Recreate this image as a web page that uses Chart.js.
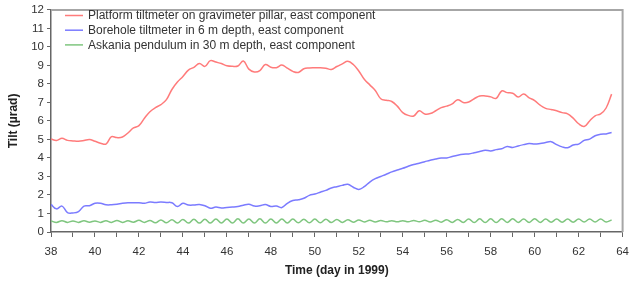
<!DOCTYPE html>
<html>
<head>
<meta charset="utf-8">
<script src="https://cdn.jsdelivr.net/npm/chart.js@4.4.0/dist/chart.umd.min.js"></script>
<style>
  html, body { margin: 0; padding: 0; background: #fff; }
  #wrap { width: 637px; height: 284px; }
</style>
</head>
<body>
<div id="wrap"><canvas id="grafico-tilt"></canvas></div>
<script>
// Eixo x - dias (dia do ano 1999)
const dias = [
  38, 38.25, 38.5, 38.75, 39, 39.25, 39.5, 39.75, 40, 40.25, 40.5, 40.75,
  41, 41.25, 41.5, 41.75, 42, 42.25, 42.5, 42.75, 43, 43.25, 43.5, 43.75,
  44, 44.25, 44.5, 44.75, 45, 45.25, 45.5, 45.75, 46, 46.25, 46.5, 46.75,
  47, 47.25, 47.5, 47.75, 48, 48.25, 48.5, 48.75, 49, 49.25, 49.5, 49.75,
  50, 50.25, 50.5, 50.75, 51, 51.25, 51.5, 51.75, 52, 52.25, 52.5, 52.75,
  53, 53.25, 53.5, 53.75, 54, 54.25, 54.5, 54.75, 55, 55.25, 55.5, 55.75,
  56, 56.25, 56.5, 56.75, 57, 57.25, 57.5, 57.75, 58, 58.25, 58.5, 58.75,
  59, 59.25, 59.5, 59.75, 60, 60.25, 60.5, 60.75, 61, 61.25, 61.5, 61.75,
  62, 62.25, 62.5, 62.75, 63, 63.25, 63.5
];

// Platform tiltmeter (vermelho)
const plataforma = [
  5.02, 4.95, 5.06, 4.95, 4.92, 4.90, 4.94, 5.00, 4.90, 4.80, 4.75, 5.15,
  5.10, 5.13, 5.35, 5.62, 5.75, 6.15, 6.50, 6.72, 6.88, 7.15, 7.70, 8.10,
  8.40, 8.75, 8.90, 9.10, 8.95, 9.26, 9.18, 9.10, 8.98, 8.95, 8.97, 9.24,
  8.80, 8.65, 8.72, 9.05, 8.90, 8.88, 9.02, 8.85, 8.68, 8.62, 8.82, 8.86,
  8.87, 8.88, 8.85, 8.78, 8.94, 9.08, 9.22, 9.05, 8.70, 8.25, 7.95, 7.65,
  7.20, 7.12, 7.05, 6.80, 6.45, 6.30, 6.27, 6.55, 6.38, 6.40, 6.55, 6.72,
  6.80, 6.92, 7.15, 7.00, 7.02, 7.20, 7.35, 7.35, 7.30, 7.22, 7.62, 7.53,
  7.50, 7.30, 7.45, 7.25, 7.10, 6.85, 6.68, 6.62, 6.55, 6.45, 6.38, 6.15,
  5.85, 5.70, 6.00, 6.28, 6.38, 6.70, 7.45
];

// Borehole tiltmeter 6 m (azul)
const furo = [
  1.49, 1.25, 1.40, 1.05, 1.03, 1.10, 1.40, 1.42, 1.55, 1.55, 1.47, 1.47,
  1.50, 1.55, 1.58, 1.58, 1.58, 1.55, 1.62, 1.60, 1.62, 1.60, 1.58, 1.38,
  1.55, 1.46, 1.46, 1.49, 1.42, 1.28, 1.35, 1.30, 1.33, 1.35, 1.38, 1.45,
  1.50, 1.40, 1.42, 1.48, 1.38, 1.40, 1.32, 1.55, 1.70, 1.74, 1.82, 1.98,
  2.05, 2.15, 2.25, 2.38, 2.45, 2.52, 2.58, 2.42, 2.30, 2.45, 2.70, 2.88,
  3.00, 3.12, 3.25, 3.35, 3.44, 3.55, 3.65, 3.72, 3.80, 3.88, 3.95, 4.00,
  4.00, 4.08, 4.15, 4.20, 4.22, 4.28, 4.35, 4.42, 4.38, 4.45, 4.50, 4.62,
  4.57, 4.65, 4.72, 4.78, 4.75, 4.78, 4.83, 4.88, 4.72, 4.60, 4.55, 4.70,
  4.75, 4.95, 5.02, 5.20, 5.28, 5.30, 5.38
];

// Askania pendulum 30 m (verde)
const pendulo = [
  0.60, 0.52, 0.61, 0.52, 0.60, 0.52, 0.61, 0.53, 0.60, 0.52, 0.61, 0.52,
  0.62, 0.52, 0.61, 0.53, 0.63, 0.52, 0.62, 0.50, 0.65, 0.50, 0.66, 0.49,
  0.68, 0.48, 0.69, 0.48, 0.69, 0.48, 0.70, 0.48, 0.70, 0.48, 0.71, 0.48,
  0.70, 0.48, 0.71, 0.48, 0.70, 0.49, 0.70, 0.49, 0.70, 0.50, 0.69, 0.50,
  0.70, 0.50, 0.69, 0.51, 0.68, 0.52, 0.66, 0.53, 0.65, 0.54, 0.63, 0.54,
  0.62, 0.55, 0.61, 0.55, 0.61, 0.55, 0.62, 0.55, 0.63, 0.54, 0.64, 0.53,
  0.66, 0.52, 0.68, 0.52, 0.70, 0.51, 0.71, 0.51, 0.71, 0.51, 0.71, 0.52,
  0.71, 0.52, 0.70, 0.52, 0.71, 0.52, 0.70, 0.53, 0.70, 0.53, 0.70, 0.53,
  0.70, 0.54, 0.70, 0.54, 0.70, 0.54, 0.65
];

const nomes = [
  "Platform tiltmeter on gravimeter pillar, east component",
  "Borehole tiltmeter in 6 m depth, east component",
  "Askania pendulum in 30 m depth, east component"
];
const cores = ["#ff7b7b", "#7b7bff", "#7fc67f"];

const pontos = serie => serie.map((v, i) => ({ x: dias[i], y: v }));

// legenda desenhada dentro da area do grafico
const legendaInterna = {
  id: "legendaInterna",
  afterDraw(chart) {
    const ctx = chart.ctx;
    const area = chart.chartArea;
    ctx.save();
    // moldura cinza no topo e na direita
    ctx.strokeStyle = "#a6a6a6";
    ctx.lineWidth = 2;
    ctx.beginPath();
    ctx.moveTo(area.left, area.top);
    ctx.lineTo(area.right, area.top);
    ctx.lineTo(area.right, area.bottom);
    ctx.stroke();

    ctx.font = "12px 'Liberation Sans', Arial, sans-serif";
    ctx.textBaseline = "middle";
    ctx.fillStyle = "#333";
    chart.data.datasets.forEach((ds, i) => {
      const y = 15.5 + i * 14.7;
      ctx.strokeStyle = ds.borderColor;
      ctx.lineWidth = 1.5;
      ctx.beginPath();
      ctx.moveTo(65, y);
      ctx.lineTo(83, y);
      ctx.stroke();
      ctx.fillText(ds.label, 88, y + 0.5);
    });
    ctx.restore();
  }
};

const fonteEixo = { family: "'Liberation Sans', Arial, sans-serif", size: 11.5 };

const configTilt = {
  type: "line",
  data: {
    datasets: [0, 1, 2].map(i => ({
      label: nomes[i],
      data: pontos([plataforma, furo, pendulo][i]),
      borderColor: cores[i],
      borderWidth: 1.5,
      pointRadius: 0,
      tension: 0.4,
      fill: false
    }))
  },
  options: {
    responsive: false,
    animation: false,
    layout: { padding: { top: 5, right: 4, left: 0, bottom: 0 } },
    plugins: {
      legend: { display: false },
      tooltip: { enabled: false }
    },
    scales: {
      x: {
        type: "linear",
        min: 38,
        max: 64,
        afterFit: s => { s.height = 52; },
        ticks: {
          stepSize: 1,
          autoSkip: false,
          maxRotation: 0,
          color: "#333",
          font: fonteEixo,
          padding: 8,
          callback: v => (v % 2 === 0 ? v : "")
        },
        grid: { drawOnChartArea: false, drawTicks: true, tickLength: 5, color: "#666" },
        border: { color: "#666", width: 1.5 },
        title: {
          display: true,
          text: "Time (day in 1999)",
          color: "#222",
          font: { family: "'Liberation Sans', Arial, sans-serif", size: 12, weight: "bold" },
          padding: { top: 2, bottom: 6 }
        }
      },
      y: {
        min: 0,
        max: 12,
        afterFit: s => { s.width = 51; },
        ticks: {
          stepSize: 1,
          color: "#333",
          font: fonteEixo,
          padding: 3
        },
        grid: { drawOnChartArea: false, drawTicks: true, tickLength: 4, color: "#666" },
        border: { color: "#666", width: 1.5 },
        title: {
          display: true,
          text: "Tilt (µrad)",
          color: "#222",
          font: { family: "'Liberation Sans', Arial, sans-serif", size: 12, weight: "bold" },
          padding: { top: 6, bottom: 0 }
        }
      }
    }
  },
  plugins: [legendaInterna]
};

const canvasTilt = document.getElementById("grafico-tilt");
canvasTilt.width = 637;
canvasTilt.height = 284;
let myChartTilt = new Chart(canvasTilt, configTilt);
</script>
</body>
</html>
